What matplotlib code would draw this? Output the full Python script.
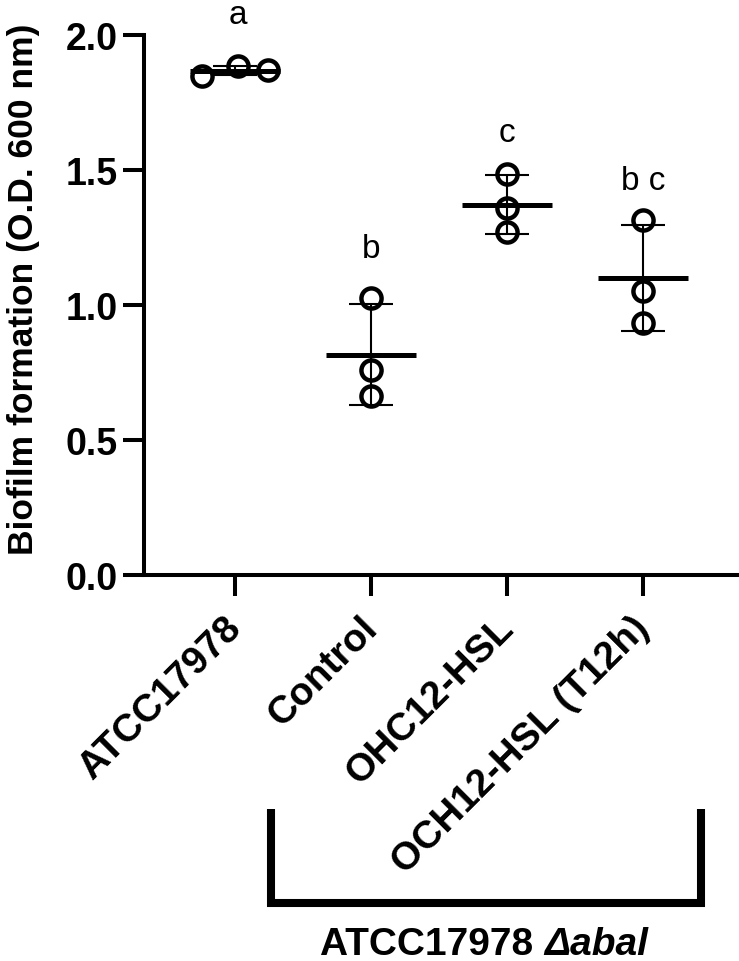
import matplotlib
matplotlib.use("Agg")
import matplotlib.pyplot as plt
from matplotlib.lines import Line2D
from matplotlib.transforms import ScaledTranslation
import numpy as np

plt.rcParams['font.family'] = ['Liberation Sans', 'DejaVu Sans']

categories = ["ATCC17978", "Control", "OHC12-HSL", "OCH12-HSL (T12h)"]
atcc_vals = [1.85, 1.885, 1.87]
control_vals = [1.026, 0.76, 0.664]
ohc_vals = [1.487, 1.358, 1.269]
och_vals = [1.314, 1.052, 0.934]
series = [atcc_vals, control_vals, ohc_vals, och_vals]
jitter = [[-0.24, 0.02, 0.24], [0, 0, 0], [0, 0, 0], [0, 0, 0]]
sig_letters = ["a", "b", "c", "b c"]
group_label = "ATCC17978 "
group_label_it = "\u0394abal"

W, H = 739, 962
fig = plt.figure(figsize=(W / 100, H / 100), dpi=100)
ax_left, ax_bottom_px, ax_top_px = 144, 576, 36
ax = fig.add_axes([ax_left / W, 1 - ax_bottom_px / H, 1 - ax_left / W,
                   (ax_bottom_px - ax_top_px) / H])

lw_axis = 2.9
for i, vals in enumerate(series):
    vals = np.array(vals)
    m = vals.mean()
    sd = vals.std(ddof=1)
    ax.errorbar(i, m, yerr=sd, fmt='none', ecolor='black', elinewidth=1.5,
                capsize=16, capthick=1.5, zorder=2)
    ax.hlines(m, i - 0.33, i + 0.33, color='black', lw=3.6, zorder=3)
    ax.plot(np.array(jitter[i]) + i, vals, 'o', ms=14.5, mfc='none', mec='black',
            mew=3.2, zorder=4, clip_on=False)

ax.set_xlim(-0.67, (739 - 235) / 136)
ax.set_ylim(0, 2.0)
ax.set_yticks([0.0, 0.5, 1.0, 1.5, 2.0])
ax.set_yticklabels(["0.0", "0.5", "1.0", "1.5", "2.0"])
ax.set_xticks(range(len(categories)))
ax.set_xticklabels([])

# rotated category labels, placed under each tick
shift = ScaledTranslation(-12 / 100, -34 / 100, fig.dpi_scale_trans)
for i, lab in enumerate(categories):
    ax.text(i, 0, lab, transform=ax.get_xaxis_transform() + shift,
            rotation=45, ha='right', va='top', rotation_mode='anchor',
            fontsize=28, fontweight='bold', clip_on=False)

for sp in ['top', 'right']:
    ax.spines[sp].set_visible(False)
for sp in ['left', 'bottom']:
    ax.spines[sp].set_linewidth(lw_axis)
ax.tick_params(axis='both', width=lw_axis, length=15)
ax.tick_params(axis='y', pad=4, labelsize=27)
for lab in ax.get_yticklabels():
    lab.set_fontweight('bold')

ax.set_ylabel("Biofilm formation (O.D. 600 nm)", fontsize=25.5, fontweight='bold')
ax.yaxis.set_label_coords(-0.175, 0.53)

letter_y = [2.075, 1.21, 1.64, 1.46]
for i, (t, yy) in enumerate(zip(sig_letters, letter_y)):
    ax.text(i + (0.02 if i == 0 else 0), yy, t, ha='center', va='center',
            fontsize=24, clip_on=False)

# bracket below
x1, x2, yt, yb = 271 / W, 701 / W, 1 - 810 / H, 1 - 904 / H
fig.add_artist(Line2D([x1, x1, x2, x2], [yt, yb, yb, yt], color='black',
                      lw=5.8, solid_joinstyle='miter', solid_capstyle='butt'))
t1 = fig.text(320 / W, 1 - 945 / H, group_label, ha='left', va='center',
              fontsize=28, fontweight='bold')
ax.annotate(group_label_it, xy=(1, 0), xycoords=t1, ha='left', va='bottom',
            fontsize=28, fontweight='bold', fontstyle='italic')

fig.savefig("out.png", dpi=100)
